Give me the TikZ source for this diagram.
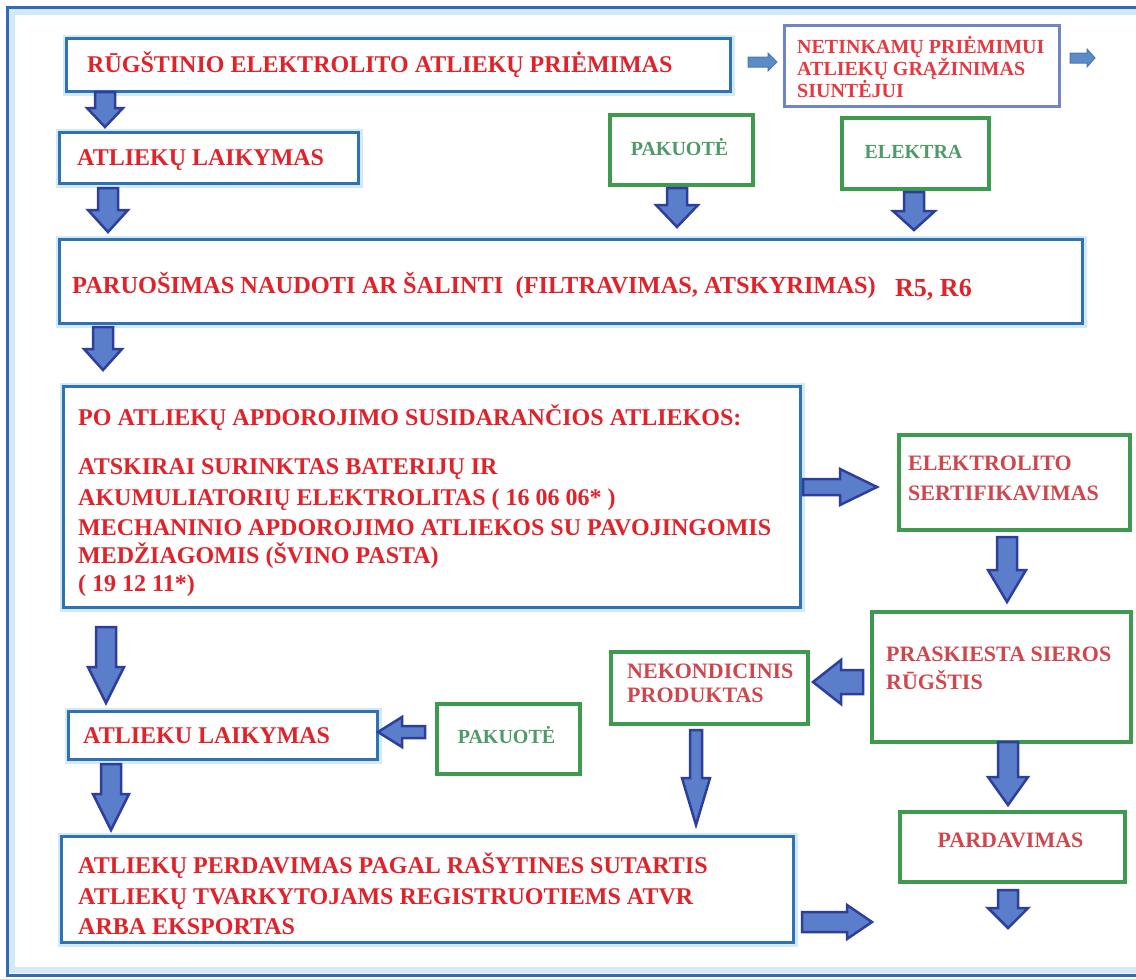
\documentclass[tikz,border=0pt]{standalone}
\usepackage{fontspec}
\setmainfont{Liberation Serif}
\definecolor{frameblue}{HTML}{2F6CB3}
\definecolor{boxblue}{HTML}{2E72B4}
\definecolor{halo}{HTML}{D3EAF6}
\definecolor{lavblue}{HTML}{6F86C2}
\definecolor{boxgreen}{HTML}{3E9A4C}
\definecolor{redtxt}{HTML}{E0232B}
\definecolor{lavtxt}{HTML}{E8383F}
\definecolor{rosetxt}{HTML}{CF464D}
\definecolor{greentxt}{HTML}{4E9A68}
\definecolor{arrowfill}{HTML}{5B7ECB}
\definecolor{arrowline}{HTML}{2E3E9C}
\definecolor{smallfill}{HTML}{5B8CC6}
\definecolor{smallline}{HTML}{4A78B5}

% block arrows: down (x, top, tip, shaft half, head half, head length)
\newcommand{\ArrDown}[7][blockarrow]{%
  \filldraw[#1] ({#2-#5},#3) -- ({#2+#5},#3) -- ({#2+#5},{#4-#7}) -- ({#2+#6},{#4-#7})
    -- (#2,#4) -- ({#2-#6},{#4-#7}) -- ({#2-#5},{#4-#7}) -- cycle;}
% right (y, start, tip, shaft half, head half, head length)
\newcommand{\ArrRight}[7][blockarrow]{%
  \filldraw[#1] (#3,{#2-#5}) -- ({#4-#7},{#2-#5}) -- ({#4-#7},{#2-#6}) -- (#4,#2)
    -- ({#4-#7},{#2+#6}) -- ({#4-#7},{#2+#5}) -- (#3,{#2+#5}) -- cycle;}
% left (y, start, tip, shaft half, head half, head length)
\newcommand{\ArrLeft}[7][blockarrow]{%
  \filldraw[#1] (#3,{#2-#5}) -- ({#4+#7},{#2-#5}) -- ({#4+#7},{#2-#6}) -- (#4,#2)
    -- ({#4+#7},{#2+#6}) -- ({#4+#7},{#2+#5}) -- (#3,{#2+#5}) -- cycle;}

\begin{document}
\begin{tikzpicture}[x=1pt,y=-1pt,
  boxbase/.style={rectangle, inner sep=0pt, anchor=north west, fill=white},
  bluebox/.style={boxbase, draw=boxblue, line width=3pt, preaction={draw=halo, line width=8pt}},
  lavbox/.style={boxbase, draw=lavblue, line width=3pt},
  greenbox/.style={boxbase, draw=boxgreen, line width=3.5pt},
  txt/.style={inner sep=0pt, font=\bfseries\fontsize{24}{28}\selectfont},
  redlbl/.style={txt, anchor=base west, text=redtxt},
  lavlbl/.style={txt, anchor=base west, text=lavtxt, font=\bfseries\fontsize{20}{22}\selectfont},
  roselbl/.style={txt, anchor=base west, text=rosetxt, font=\bfseries\fontsize{22}{26}\selectfont},
  greenlbl/.style={txt, anchor=base, text=greentxt, font=\bfseries\fontsize{20}{24}\selectfont},
  blockarrow/.style={fill=arrowfill, draw=arrowline, line width=2.5pt, line join=miter},
  smallarrow/.style={fill=smallfill, draw=smallline, line width=1pt, line join=miter}
]
\useasboundingbox (0,0) rectangle (1136,978);
\fill[white] (0,0) rectangle (1136,978);

% outer frame
\draw[halo, line width=6pt] (12,12) rectangle (1145,970);
\draw[frameblue, line width=3pt] (7,7) rectangle (1145,975);

% boxes
\node[bluebox, minimum width=664, minimum height=53] (A) at (65,37) {};
\node[lavbox, minimum width=275, minimum height=81] (B) at (783,24) {};
\node[bluebox, minimum width=299, minimum height=51] (C) at (58,131) {};
\node[greenbox, minimum width=143, minimum height=70] (D) at (608,113) {};
\node[greenbox, minimum width=147, minimum height=71] (E) at (840,116) {};
\node[bluebox, minimum width=1023, minimum height=84] (F) at (58,238) {};
\node[bluebox, minimum width=737, minimum height=221] (G) at (62,385) {};
\node[greenbox, minimum width=231, minimum height=95] (H) at (897,433) {};
\node[greenbox, minimum width=259, minimum height=130] (I) at (870,610) {};
\node[greenbox, minimum width=197, minimum height=72] (J) at (609,650) {};
\node[bluebox, minimum width=309, minimum height=48] (K) at (67,710) {};
\node[greenbox, minimum width=143, minimum height=70] (L) at (435,702) {};
\node[bluebox, minimum width=732, minimum height=106] (M) at (60,835) {};
\node[greenbox, minimum width=225, minimum height=70] (N) at (898,810) {};

% texts
\node[redlbl] (tA) at (87,72) {RŪGŠTINIO ELEKTROLITO ATLIEKŲ PRIĖMIMAS};
\node[lavlbl] (tB1) at (797,53) {NETINKAMŲ PRIĖMIMUI};
\node[lavlbl] (tB2) at (797,75) {ATLIEKŲ GRĄŽINIMAS};
\node[lavlbl] (tB3) at (797,97) {SIUNTĖJUI};
\node[redlbl] (tC) at (77,165) {ATLIEKŲ LAIKYMAS};
\node[greenlbl] (tD) at (679.5,155) {PAKUOTĖ};
\node[greenlbl] (tE) at (913.5,158) {ELEKTRA};
\node[redlbl, font=\bfseries\fontsize{24.4}{28}\selectfont] (tF) at (72,293) {PARUOŠIMAS NAUDOTI AR ŠALINTI\ \ (FILTRAVIMAS, ATSKYRIMAS)};
\node[redlbl, font=\bfseries\fontsize{26}{30}\selectfont] (tF2) at (895,296) {R5, R6};
\node[redlbl] (tG1) at (78,425) {PO ATLIEKŲ APDOROJIMO SUSIDARANČIOS ATLIEKOS:};
\node[redlbl] (tG2) at (78,474) {ATSKIRAI SURINKTAS BATERIJŲ IR};
\node[redlbl] (tG3) at (78,505) {AKUMULIATORIŲ ELEKTROLITAS ( 16 06 06* )};
\node[redlbl] (tG4) at (78,535) {MECHANINIO APDOROJIMO ATLIEKOS SU PAVOJINGOMIS};
\node[redlbl] (tG5) at (78,563) {MEDŽIAGOMIS (ŠVINO PASTA)};
\node[redlbl] (tG6) at (78,591) {( 19 12 11*)};
\node[roselbl] (tH1) at (908,470) {ELEKTROLITO};
\node[roselbl] (tH2) at (908,500) {SERTIFIKAVIMAS};
\node[roselbl] (tI1) at (886,661) {PRASKIESTA SIEROS};
\node[roselbl] (tI2) at (886,689) {RŪGŠTIS};
\node[roselbl] (tJ1) at (627,678) {NEKONDICINIS};
\node[roselbl] (tJ2) at (627,702) {PRODUKTAS};
\node[redlbl] (tK) at (83,743) {ATLIEKU LAIKYMAS};
\node[greenlbl] (tL) at (506.5,743) {PAKUOTĖ};
\node[redlbl] (tM1) at (78,873) {ATLIEKŲ PERDAVIMAS PAGAL RAŠYTINES SUTARTIS};
\node[redlbl] (tM2) at (78,904) {ATLIEKŲ TVARKYTOJAMS REGISTRUOTIEMS ATVR};
\node[redlbl] (tM3) at (78,934) {ARBA EKSPORTAS};
\node[roselbl, anchor=base] (tN) at (1010.5,847) {PARDAVIMAS};

% small arrows beside the return box
\ArrRight[smallarrow]{62}{748}{777}{5}{9}{9}
\ArrRight[smallarrow]{58}{1070}{1095}{5}{9}{8}

% block arrows
\ArrDown{105}{92}{127}{10}{18}{19}
\ArrDown{108}{188}{232}{10}{20}{22}
\ArrDown{677}{188}{227}{10}{21}{22}
\ArrDown{914}{192}{230}{10}{21}{19}
\ArrDown{103}{327}{370}{10}{19}{21}
\ArrRight{487}{803}{877}{8}{18}{37}
\ArrDown{1007}{537}{602}{10}{19}{32}
\ArrLeft{682}{863}{813}{12}{22}{28}
\ArrDown{106}{627}{703}{10}{18}{36}
\ArrLeft{732}{425}{378}{6}{15}{24}
\ArrDown{111}{764}{830}{10}{18}{36}
\ArrDown{696}{730}{825}{6}{14}{47}
\ArrDown{1008}{742}{805}{10}{20}{28}
\ArrRight{922}{802}{872}{10}{17}{25}
\ArrDown{1008}{890}{928}{10}{20}{20}
\end{tikzpicture}
\end{document}
